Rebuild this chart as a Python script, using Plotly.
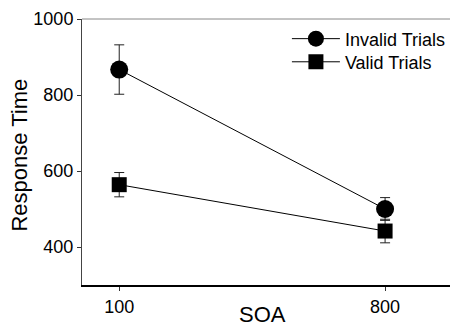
import plotly.graph_objects as go

soa = [100, 800]
invalid_rt = [867, 500]
invalid_err = [65, 30]
valid_rt = [564, 442]
valid_err = [32, 31]
y_ticks = [400, 600, 800, 1000]

FONT = "Liberation Sans, Arial, sans-serif"

fig = go.Figure()
fig.add_trace(go.Scatter(
    x=soa, y=invalid_rt, name="Invalid Trials", mode="lines+markers",
    line=dict(color="black", width=1),
    marker=dict(symbol="circle", size=18, color="black"),
    error_y=dict(type="data", array=invalid_err, visible=True, color="#222", thickness=1, width=5),
    legend="legend",
))
fig.add_trace(go.Scatter(
    x=soa, y=valid_rt, name="Valid Trials", mode="lines+markers",
    line=dict(color="black", width=1),
    marker=dict(symbol="square", size=15, color="black"),
    error_y=dict(type="data", array=valid_err, visible=True, color="#222", thickness=1, width=5),
    legend="legend2",
))

leg_common = dict(xanchor="left", yanchor="middle", bgcolor="rgba(0,0,0,0)",
                  font=dict(size=18), itemwidth=48, borderwidth=0)

fig.update_layout(
    width=450, height=323,
    margin=dict(l=74, r=0, t=11, b=46),
    paper_bgcolor="white", plot_bgcolor="white",
    font=dict(family=FONT, size=18, color="black"),
    showlegend=True,
    legend=dict(x=0.545, y=0.925, **leg_common),
    legend2=dict(x=0.545, y=0.838, **leg_common),
    xaxis=dict(range=[2, 992], tickvals=soa, ticktext=[str(v) for v in soa],
               showgrid=False, zeroline=False, showline=True, linecolor="black", linewidth=2,
               ticks="outside", ticklen=4, tickcolor="#333", tickfont=dict(size=18)),
    yaxis=dict(range=[300, 1000], tickvals=y_ticks, showgrid=False, zeroline=False,
               showline=True, linecolor="#444", linewidth=1,
               ticks="outside", ticklen=4, tickcolor="#333", tickfont=dict(size=18)),
    annotations=[
        dict(text="SOA", xref="paper", yref="paper", x=0.481, y=-0.166, xanchor="center",
             yanchor="bottom", showarrow=False, font=dict(size=22)),
        dict(text="Response Time", xref="paper", yref="paper", x=-0.165, y=0.49, textangle=-90,
             xanchor="center", yanchor="middle", showarrow=False, font=dict(size=22)),
    ],
    shapes=[dict(type="line", xref="paper", yref="paper", x0=0, x1=1, y0=1, y1=1,
                 line=dict(color="#888", width=1))],
)

fig.write_html("out.html")
